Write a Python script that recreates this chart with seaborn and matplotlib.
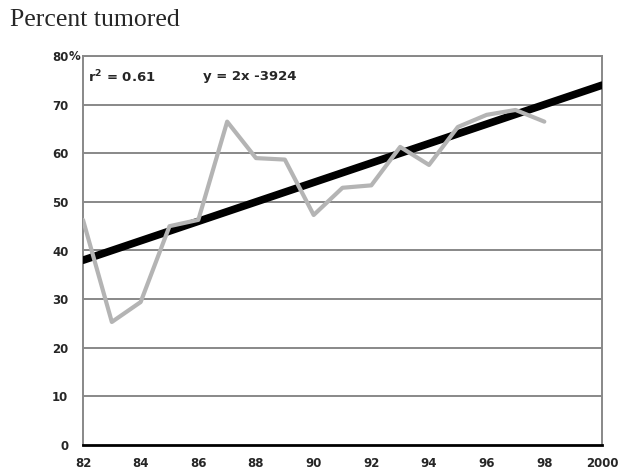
import matplotlib.pyplot as plt
import numpy as np
import pandas as pd
import seaborn as sns

# dados
anos = [1982, 1983, 1984, 1985, 1986, 1987, 1988, 1989, 1990,
        1991, 1992, 1993, 1994, 1995, 1996, 1997, 1998]
percentual = [46.3, 25.3, 29.4, 45.0, 46.3, 66.5, 59.0, 58.7, 47.3,
              52.9, 53.4, 61.3, 57.6, 65.4, 67.9, 68.9, 66.5]

tendencia_anos = [1982, 2000]
tendencia_valores = [38.0, 74.0]

xticks = [1982, 1984, 1986, 1988, 1990, 1992, 1994, 1996, 1998, 2000]
xlabels = ['82', '84', '86', '88', '90', '92', '94', '96', '98', '2000']
yticks = [0, 10, 20, 30, 40, 50, 60, 70, 80]
ylabels = ['0', '10', '20', '30', '40', '50', '60', '70', '80']

df = pd.DataFrame({'ano': anos, 'pct': percentual})
df_tend = pd.DataFrame({'ano': tendencia_anos, 'pct': tendencia_valores})

sns.set_style('white')
plt.rcParams['font.family'] = ['DejaVu Sans']

fig = plt.figure(figsize=(6.18, 4.73), dpi=100)
ax = fig.add_axes([83 / 618, 1 - 445 / 473, (602 - 83) / 618, (445 - 56) / 473])

sns.lineplot(data=df_tend, x='ano', y='pct', ax=ax, color='black', linewidth=5.5, zorder=3)
sns.lineplot(data=df, x='ano', y='pct', ax=ax, color='#b4b4b4', linewidth=3, zorder=4)

ax.set_xlim(1982, 2000)
ax.set_ylim(0, 80)
ax.set_yticks(yticks)
ax.set_yticklabels(ylabels, fontsize=8.5, fontweight='bold')
ax.set_xticks(xticks)
ax.set_xticklabels(xlabels, fontsize=8.5, fontweight='bold')
ax.tick_params(axis='y', length=0, pad=10.5)
ax.tick_params(axis='x', length=0, pad=8.5)
ax.set_xlabel('')
ax.set_ylabel('')

# simbolo de % junto ao 80
ax.annotate('%', xy=(0, 80), xycoords=('axes fraction', 'data'),
            xytext=(-10.5, 0), textcoords='offset points',
            ha='left', va='center', fontsize=8.5, fontweight='bold')

for v in yticks[1:]:
    ax.axhline(v, color='#888888', linewidth=1.4, zorder=1)

for lado in ['left', 'right', 'top']:
    ax.spines[lado].set_color('#888888')
    ax.spines[lado].set_linewidth(1.4)
ax.spines['bottom'].set_color('black')
ax.spines['bottom'].set_linewidth(2)

ax.text(1982.17, 75.7, r'$\mathbf{r^2}$ = 0.61', fontsize=9.5, fontweight='bold', va='center')
ax.text(1986.15, 75.7, 'y = 2x -3924', fontsize=9.5, fontweight='bold', va='center')

fig.text(10 / 618, 1 - 20 / 473, 'Percent tumored', fontsize=18.5,
         family='Liberation Serif', va='center', ha='left')

fig.savefig('out.png', dpi=100)
